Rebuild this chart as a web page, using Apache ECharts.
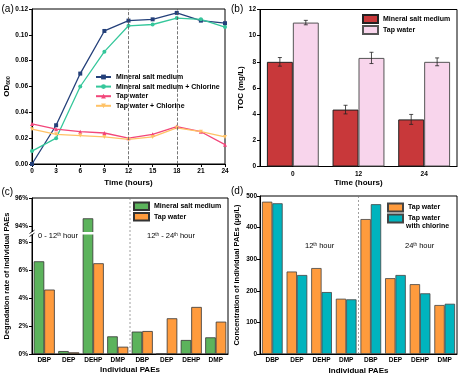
<!DOCTYPE html>
<html><head><meta charset="utf-8">
<script src="https://cdn.jsdelivr.net/npm/echarts@6/dist/echarts.min.js"></script>
<style>html,body{margin:0;padding:0;background:#fff}#c{width:460px;height:378px}</style>
</head><body><div id="c"></div>
<script>
// ---------- data ----------
const hours = [0, 3, 6, 9, 12, 15, 18, 21, 24];
const odMineral   = [0.000, 0.030, 0.070, 0.103, 0.111, 0.112, 0.117, 0.111, 0.109];
const odMineralCl = [0.010, 0.020, 0.060, 0.087, 0.107, 0.108, 0.113, 0.112, 0.106];
const odTap       = [0.031, 0.027, 0.025, 0.024, 0.020, 0.023, 0.029, 0.025, 0.015];
const odTapCl     = [0.027, 0.023, 0.022, 0.021, 0.019, 0.021, 0.028, 0.025, 0.021];
const odMarkHours = [12, 18];

const tocTimes = ['0', '12', '24'];
const tocMineral    = [8.0, 4.35, 3.6];
const tocMineralErr = [0.33, 0.33, 0.38];
const tocTap        = [11.0, 8.3, 8.0];
const tocTapErr     = [0.17, 0.43, 0.3];

const paes = ['DBP', 'DEP', 'DEHP', 'DMP', 'DBP', 'DEP', 'DEHP', 'DMP'];
const degMineral = [6.62, 0.21, 94.55, 1.26, 1.60, 0, 1.00, 1.19];
const degTap     = [4.60, 0.12, 6.48, 0.52, 1.64, 2.55, 3.36, 2.31];
const degTickLabels = [0, 2, 4, 6, 8, 94, 96];

const concTap   = [482, 261, 272, 175, 427, 240, 221, 155];
const concTapCl = [477, 250, 196, 173, 474, 250, 192, 159];

// ---------- broken axis for (c) ----------
const BREAK_LOW = 8, BREAK_HIGH = 94, BREAK_POS = 9.14;
const brk = v => (v <= BREAK_LOW + 0.5 ? v : v - BREAK_HIGH + BREAK_POS);
const unbrk = v => (v <= BREAK_LOW + 0.5 ? v : v - BREAK_POS + BREAK_HIGH);

// ---------- styles ----------
const FONT = "'Liberation Sans', Arial, sans-serif";
const BLACK = '#000';
const tickLbl = { fontFamily: FONT, fontSize: 6.5, fontWeight: 'bold', color: BLACK, margin: 4 };
const catLbl = { fontFamily: FONT, fontSize: 6.5, fontWeight: 'bold', color: BLACK, margin: 3, interval: 0 };
const axLine = { show: true, onZero: false, lineStyle: { color: BLACK, width: 1 } };
const axTick = { show: true, inside: false, length: 3, lineStyle: { color: BLACK, width: 1 } };
const nameStyle = { fontFamily: FONT, fontSize: 8, fontWeight: 'bold', color: BLACK };
const gridBase = { show: true, borderColor: BLACK, borderWidth: 1, backgroundColor: 'transparent', outerBoundsMode: 'none', containLabel: false };
const legText = { fontFamily: FONT, fontSize: 7, fontWeight: 'bold', color: BLACK, lineHeight: 9 };

const TOC_GAP = 0.21;
function errRender(sign) {
  return function (params, api) {
    const i = api.value(0);
    const lo = api.coord([i, api.value(1)]);
    const hi = api.coord([i, api.value(2)]);
    const band = api.size([1, 0])[0];
    const bw = band * (1 - TOC_GAP) / 2;
    const x = lo[0] + sign * bw / 2;
    const c = 2;
    const style = { stroke: '#222', lineWidth: 0.8 };
    return { type: 'group', children: [
      { type: 'line', shape: { x1: x, y1: lo[1], x2: x, y2: hi[1] }, style },
      { type: 'line', shape: { x1: x - c, y1: lo[1], x2: x + c, y2: lo[1] }, style },
      { type: 'line', shape: { x1: x - c, y1: hi[1], x2: x + c, y2: hi[1] }, style }
    ] };
  };
}

const lineS = (name, ys, color, symbol, rot) => ({
  type: 'line', name, xAxisIndex: 0, yAxisIndex: 0,
  data: hours.map((h, i) => [h, ys[i]]),
  symbol, symbolSize: 4, symbolRotate: rot || 0, showSymbol: true,
  lineStyle: { color, width: 1.3 }, itemStyle: { color }
});

const option = {
  animation: false,
  backgroundColor: '#fff',
  textStyle: { fontFamily: FONT },
  grid: [
    Object.assign({ left: 32, top: 9, width: 193, height: 155 }, gridBase),
    Object.assign({ left: 260, top: 9.5, width: 197, height: 157 }, gridBase),
    Object.assign({ left: 32, top: 198, width: 196, height: 156 }, gridBase),
    Object.assign({ left: 260, top: 196, width: 197, height: 158 }, gridBase)
  ],
  xAxis: [
    { gridIndex: 0, type: 'value', min: 0, max: 24, interval: 3, axisLine: axLine, axisTick: axTick,
      axisLabel: tickLbl, splitLine: { show: false },
      name: 'Time (hours)', nameLocation: 'middle', nameGap: 15, nameTextStyle: nameStyle },
    { gridIndex: 1, type: 'category', data: tocTimes, axisLine: axLine, axisTick: { show: false },
      axisLabel: Object.assign({}, catLbl, { margin: 4 }), splitLine: { show: false },
      name: 'Time (hours)', nameLocation: 'middle', nameGap: 12, nameTextStyle: nameStyle },
    { gridIndex: 2, type: 'category', data: paes, axisLine: axLine, axisTick: { show: false },
      axisLabel: catLbl, splitLine: { show: false },
      name: 'Individual PAEs', nameLocation: 'middle', nameGap: 12, nameTextStyle: nameStyle },
    { gridIndex: 3, type: 'category', data: paes, axisLine: axLine, axisTick: { show: false },
      axisLabel: catLbl, splitLine: { show: false },
      name: 'Individual PAEs', nameLocation: 'middle', nameGap: 13, nameTextStyle: nameStyle }
  ],
  yAxis: [
    { gridIndex: 0, type: 'value', min: 0, max: 0.12, interval: 0.02, axisLine: axLine, axisTick: axTick,
      axisLabel: Object.assign({}, tickLbl, { formatter: v => v.toFixed(2) }), splitLine: { show: false },
      name: 'OD{s|600}', nameLocation: 'middle', nameGap: 18,
      nameTextStyle: Object.assign({}, nameStyle, { rich: { s: { fontFamily: FONT, fontSize: 5, fontWeight: 'bold', color: BLACK, verticalAlign: 'bottom', padding: [4, 0, 0, 0] } } }) },
    { gridIndex: 1, type: 'value', min: 0, max: 12, interval: 2, axisLine: axLine, axisTick: axTick,
      axisLabel: tickLbl, splitLine: { show: false },
      name: 'TOC (mg/L)', nameLocation: 'middle', nameGap: 13, nameTextStyle: nameStyle },
    { gridIndex: 2, type: 'value', min: 0, max: brk(96), axisLine: axLine,
      axisTick: Object.assign({}, axTick, { customValues: degTickLabels.map(brk) }),
      axisLabel: Object.assign({}, tickLbl, { customValues: degTickLabels.map(brk), formatter: v => Math.round(unbrk(v)) + '%' }),
      splitLine: { show: false },
      name: 'Degradation rate of individual PAEs', nameLocation: 'middle', nameGap: 21, nameTextStyle: Object.assign({}, nameStyle, { fontSize: 7.5 }) },
    { gridIndex: 3, type: 'value', min: 0, max: 500, interval: 100, axisLine: axLine, axisTick: axTick,
      axisLabel: Object.assign({}, tickLbl, { margin: 3 }), splitLine: { show: false },
      name: 'Concentration of individual PAEs (μg/L)', nameLocation: 'middle', nameGap: 19, nameTextStyle: Object.assign({}, nameStyle, { fontSize: 7.5 }) }
  ],
  legend: [
    { left: 95, top: 72.5, padding: 0, orient: 'vertical', itemWidth: 15, itemHeight: 6, itemGap: 0.6, textStyle: legText,
      data: ['Mineral salt medium', 'Mineral salt medium + Chlorine', 'Tap water', 'Tap water + Chlorine'] },
    { left: 362, top: 14, padding: 0, orient: 'vertical', itemWidth: 15, itemHeight: 8, itemGap: 1, textStyle: legText,
      data: [{ name: 'Mineral salt medium ', icon: 'rect' }, { name: 'Tap water ', icon: 'rect' }] },
    { left: 133, top: 201.5, padding: 0, orient: 'vertical', itemWidth: 15, itemHeight: 7.5, itemGap: 1, textStyle: Object.assign({}, legText, { lineHeight: 8.5 }),
      data: [{ name: 'Mineral salt medium  ', icon: 'rect' }, { name: 'Tap water  ', icon: 'rect' }] },
    { left: 387, top: 202.5, padding: 0, orient: 'vertical', itemWidth: 15, itemHeight: 8, itemGap: 1, textStyle: legText,
      data: [{ name: 'Tap water   ', icon: 'rect' }, { name: 'Tap water    ', icon: 'rect' }] }
  ],
  series: [
    Object.assign(lineS('Mineral salt medium', odMineral, '#24407A', 'rect'), {
      markLine: { silent: true, symbol: ['none', 'none'], label: { show: false },
        lineStyle: { type: 'dashed', color: '#555', width: 0.8 },
        data: odMarkHours.map(h => ({ xAxis: h })) } }),
    lineS('Mineral salt medium + Chlorine', odMineralCl, '#35C79B', 'circle'),
    lineS('Tap water', odTap, '#F2467A', 'triangle'),
    lineS('Tap water + Chlorine', odTapCl, '#FFC266', 'triangle', 180),

    { type: 'bar', name: 'Mineral salt medium ', xAxisIndex: 1, yAxisIndex: 1, data: tocMineral,
      barGap: '0%', barCategoryGap: (TOC_GAP * 100) + '%',
      itemStyle: { color: '#C8383A', borderColor: '#222', borderWidth: 1 } },
    { type: 'bar', name: 'Tap water ', xAxisIndex: 1, yAxisIndex: 1, data: tocTap,
      barGap: '0%', barCategoryGap: (TOC_GAP * 100) + '%',
      itemStyle: { color: '#F8D5EC', borderColor: '#555', borderWidth: 1 } },
    { type: 'custom', name: 'errM', xAxisIndex: 1, yAxisIndex: 1, z: 5,
      data: tocMineral.map((v, i) => [i, v - tocMineralErr[i], v + tocMineralErr[i]]),
      encode: { x: 0, y: [1, 2] }, renderItem: errRender(-1) },
    { type: 'custom', name: 'errT', xAxisIndex: 1, yAxisIndex: 1, z: 5,
      data: tocTap.map((v, i) => [i, v - tocTapErr[i], v + tocTapErr[i]]),
      encode: { x: 0, y: [1, 2] }, renderItem: errRender(1) },

    { type: 'bar', name: 'Mineral salt medium  ', xAxisIndex: 2, yAxisIndex: 2, data: degMineral.map(brk),
      barGap: '0%', barCategoryGap: '14%',
      itemStyle: { color: '#5CB35C', borderColor: '#333', borderWidth: 0.8 } },
    { type: 'bar', name: 'Tap water  ', xAxisIndex: 2, yAxisIndex: 2, data: degTap.map(brk),
      barGap: '0%', barCategoryGap: '14%',
      itemStyle: { color: '#FF9B3D', borderColor: '#333', borderWidth: 0.8 } },

    { type: 'bar', name: 'Tap water   ', xAxisIndex: 3, yAxisIndex: 3, data: concTap,
      barGap: '0%', barCategoryGap: '16%',
      itemStyle: { color: '#FF9B3D', borderColor: '#444', borderWidth: 0.8 } },
    { type: 'bar', name: 'Tap water    ', xAxisIndex: 3, yAxisIndex: 3, data: concTapCl,
      barGap: '0%', barCategoryGap: '16%',
      itemStyle: { color: '#00B4BE', borderColor: '#444', borderWidth: 0.8 } }
  ]
};

const chart = echarts.init(document.getElementById('c'), null, { renderer: 'canvas' });
chart.setOption(option);

// ---------- annotations ----------
const P = (g, x, y) => chart.convertToPixel({ gridIndex: g }, [x, y]);
const cTop = P(2, 0, brk(96)), cBot = P(2, 0, 0), cMid3 = P(2, 3, 0), cMid4 = P(2, 4, 0);
const dTop = P(3, 0, 500), dBot = P(3, 0, 0), dMid3 = P(3, 3, 0), dMid4 = P(3, 4, 0);
const sepC = (cMid3[0] + cMid4[0]) / 2, sepD = (dMid3[0] + dMid4[0]) / 2;
const brkY = P(2, 0, (BREAK_LOW + BREAK_POS) / 2 + 0.05)[1];
const dehpX = P(2, 2, 0)[0];

const txt = (x, y, text, size, weight, extra) => ({
  type: 'text', x, y, z: 100,
  style: Object.assign({ text, fill: BLACK, fontFamily: FONT, fontSize: size, fontWeight: weight || 'normal',
    align: 'left', verticalAlign: 'middle' }, extra || {})
});
const supRich = { sup: { fontFamily: FONT, fontSize: 4.5, fill: BLACK, verticalAlign: 'top', padding: [0, 0, 3, 0] } };

chart.setOption({
  graphic: [
    txt(1.5, 9, '(a)', 10),
    txt(231, 9, '(b)', 10),
    txt(1.5, 192, '(c)', 10),
    txt(231, 191, '(d)', 10),
    { type: 'line', z: 1, shape: { x1: sepC, y1: cTop[1], x2: sepC, y2: cBot[1] }, style: { stroke: '#777', lineWidth: 0.7, lineDash: [2, 2] } },
    { type: 'line', z: 1, shape: { x1: sepD, y1: dTop[1], x2: sepD, y2: dBot[1] }, style: { stroke: '#777', lineWidth: 0.7, lineDash: [2, 2] } },
    { type: 'rect', z: 50, shape: { x: 29, y: brkY - 1.3, width: dehpX + 15 - 29, height: 2.6 }, style: { fill: '#fff' } },
    { type: 'line', z: 51, shape: { x1: 29.5, y1: brkY + 3.2, x2: 34.5, y2: brkY - 0.2 }, style: { stroke: BLACK, lineWidth: 0.8 } },
    { type: 'line', z: 51, shape: { x1: 29.5, y1: brkY + 0.2, x2: 34.5, y2: brkY - 3.2 }, style: { stroke: BLACK, lineWidth: 0.8 } },
    { type: 'text', x: 38, y: 236, z: 100, style: { text: '0 - 12{sup|th} hour', fill: BLACK, fontFamily: FONT, fontSize: 7.5, verticalAlign: 'middle', rich: supRich } },
    { type: 'text', x: 147, y: 236, z: 100, style: { text: '12{sup|th} - 24{sup|th} hour', fill: BLACK, fontFamily: FONT, fontSize: 7.5, verticalAlign: 'middle', rich: supRich } },
    { type: 'text', x: 305, y: 246, z: 100, style: { text: '12{sup|th} hour', fill: BLACK, fontFamily: FONT, fontSize: 7.5, verticalAlign: 'middle', rich: supRich } },
    { type: 'text', x: 405, y: 246, z: 100, style: { text: '24{sup|th} hour', fill: BLACK, fontFamily: FONT, fontSize: 7.5, verticalAlign: 'middle', rich: supRich } },
    txt(406, 226.5, 'with chlorine', 7, 'bold')
  ]
});
</script></body></html>
